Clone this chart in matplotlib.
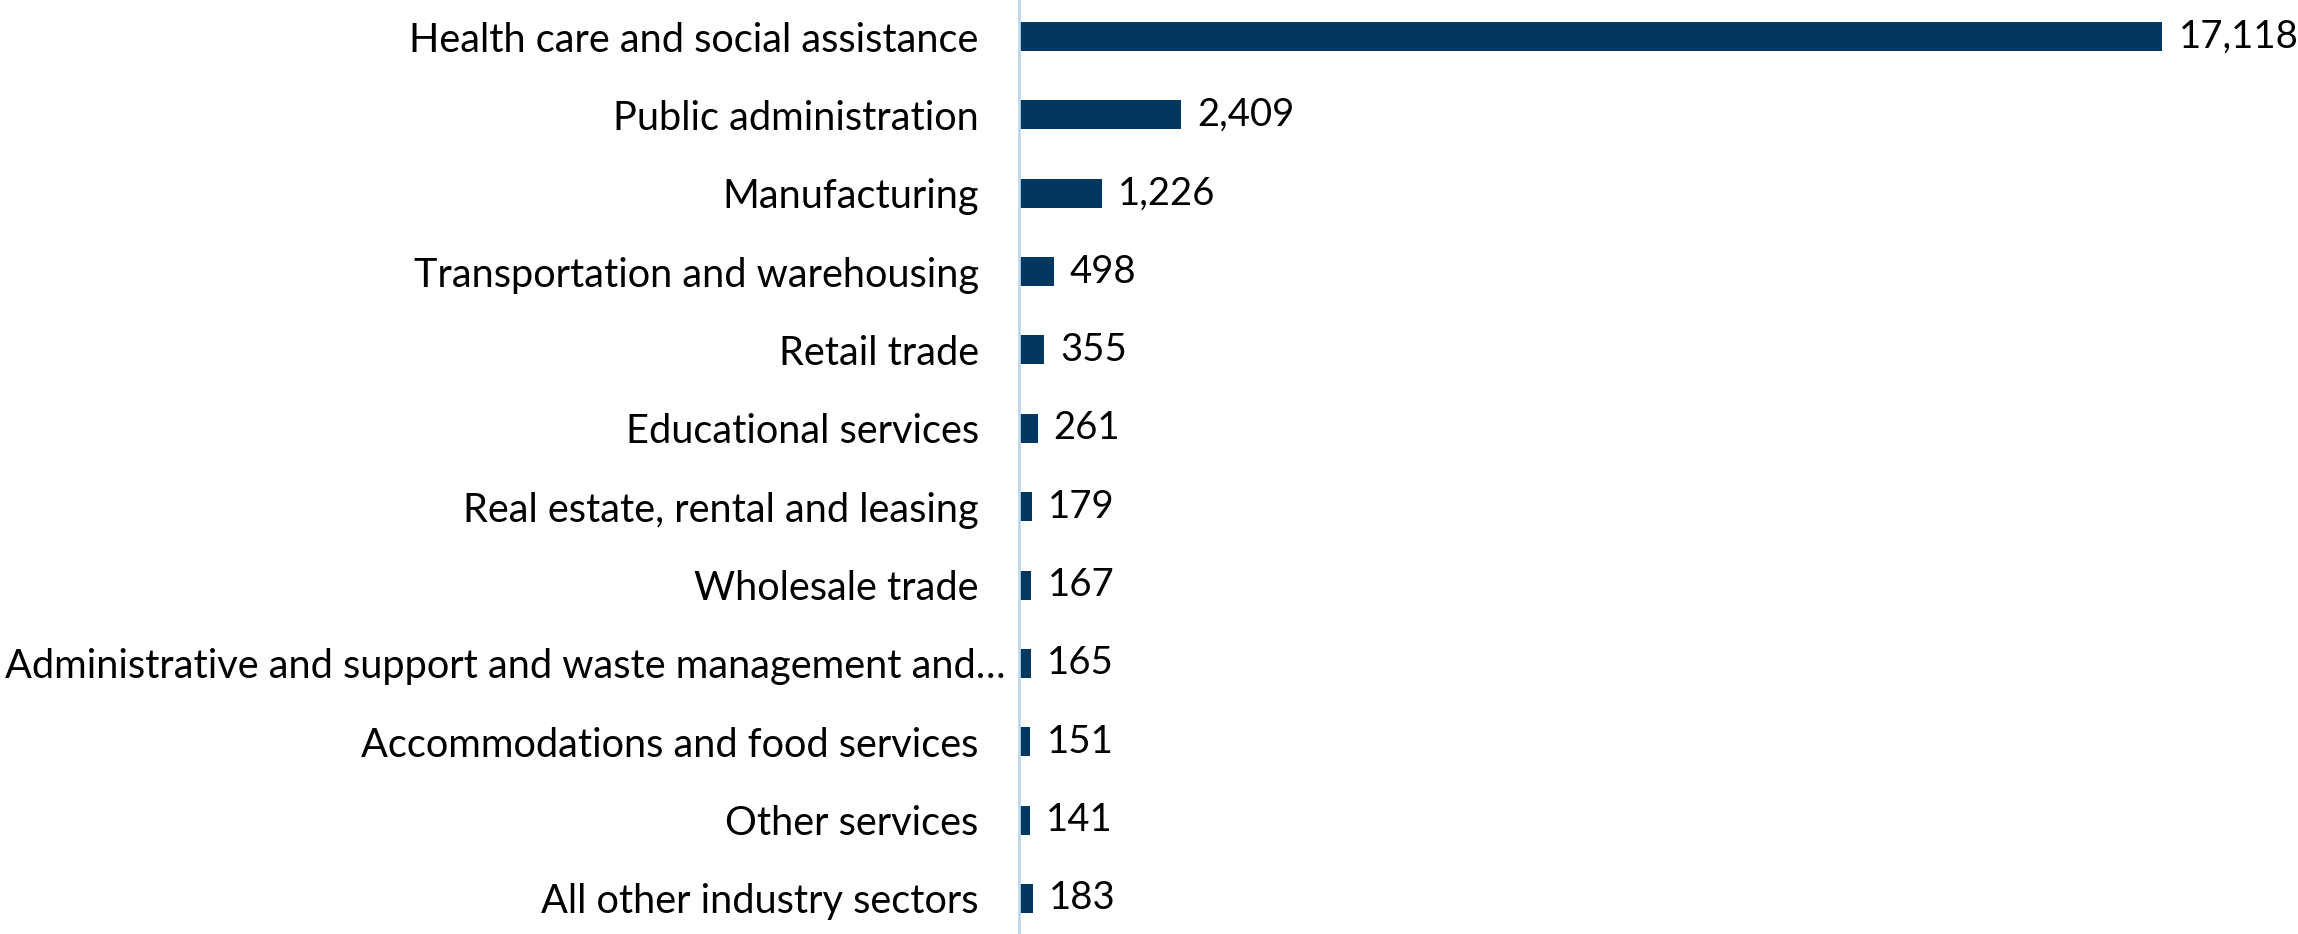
import matplotlib.pyplot as plt
from matplotlib.transforms import ScaledTranslation

# Data
industries = [
    "Health care and social assistance",
    "Public administration",
    "Manufacturing",
    "Transportation and warehousing",
    "Retail trade",
    "Educational services",
    "Real estate, rental and leasing",
    "Wholesale trade",
    "Administrative and support and waste management and\u2026",
    "Accommodations and food services",
    "Other services",
    "All other industry sectors",
]
counts = [17118, 2409, 1226, 498, 355, 261, 179, 167, 165, 151, 141, 183]

plt.rcParams['font.family'] = ['Lato', 'DejaVu Sans']

fig = plt.figure(figsize=(22.98, 9.34), dpi=100)
ax = fig.add_axes([1019 / 2298, 0, 1 - 1019 / 2298, 1])

y = list(range(len(industries)))
ax.barh(y, counts, height=0.37, color='#02375F')

for yi, v in zip(y, counts):
    ax.annotate(f"{v:,}", (v, yi), xytext=(16, 0), textcoords='offset pixels',
                va='center', ha='left', fontsize=27.5)

ax.set_xlim(-20, 19150)
ax.set_ylim(11.454, -0.467)
ax.set_yticks(y)
ax.set_yticklabels(industries, fontsize=28.6)
ax.tick_params(axis='y', length=0, pad=29)
ax.set_xticks([])

for side in ['top', 'right', 'bottom']:
    ax.spines[side].set_visible(False)
ax.spines['left'].set_color('#BDD7EE')
ax.spines['left'].set_linewidth(2)

# the truncated label runs past the others in the original
lab = ax.get_yticklabels()[8]
lab.set_transform(lab.get_transform() + ScaledTranslation(0.27, 0, fig.dpi_scale_trans))

fig.savefig('out.png', dpi=100)
